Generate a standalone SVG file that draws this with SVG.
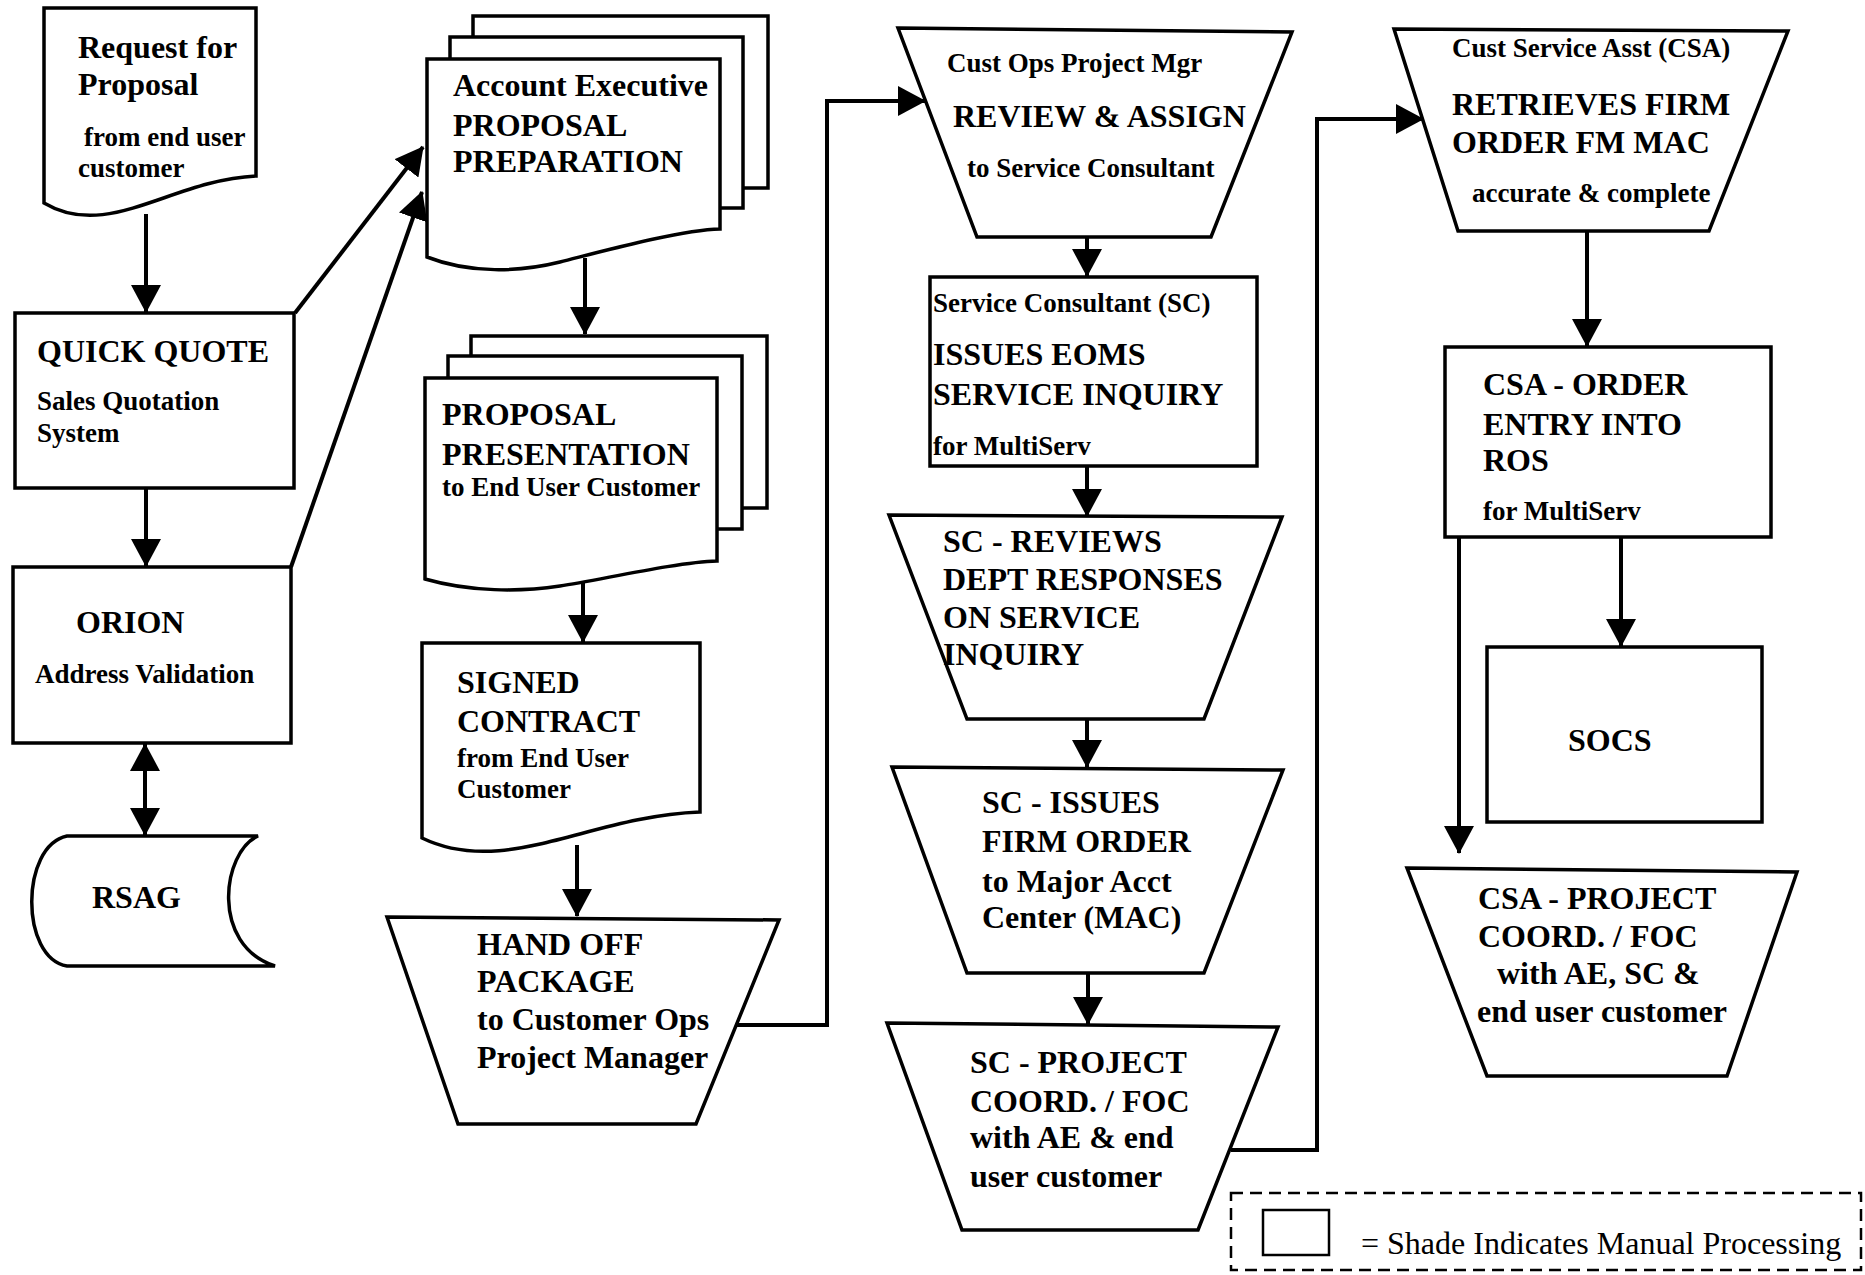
<svg xmlns="http://www.w3.org/2000/svg" width="1865" height="1275" viewBox="0 0 1865 1275">
<defs>
<marker id="ah" viewBox="0 0 28 30" refX="27" refY="15" markerWidth="28" markerHeight="30" markerUnits="userSpaceOnUse" orient="auto-start-reverse">
<path d="M0,0 L28,15 L0,30 Z" fill="#000"/>
</marker>
<style>
.sh{fill:#fff;stroke:#000;stroke-width:3.5;stroke-linejoin:miter}
.cn{fill:none;stroke:#000;stroke-width:4}
text{font-family:"Liberation Serif","Times New Roman",serif;font-weight:bold;fill:#000}
.b{font-size:32px}
.s{font-size:27px}
.lg{font-size:32px;font-weight:normal}
</style>
</defs>
<rect width="1865" height="1275" fill="#fff"/>

<g id="request">
<path class="sh" d="M44,8 H256 V176 C171,180 108,241 44,203 Z"/>
<text class="b" x="78" y="58">Request for</text>
<text class="b" x="78" y="95">Proposal</text>
<text class="s" x="84" y="146">from end user</text>
<text class="s" x="78" y="177">customer</text>
</g>

<g id="quickquote">
<rect class="sh" x="15" y="313" width="279" height="175"/>
<text class="b" x="37" y="362">QUICK QUOTE</text>
<text class="s" x="37" y="410">Sales Quotation</text>
<text class="s" x="37" y="442">System</text>
</g>

<g id="orion">
<rect class="sh" x="13" y="567" width="278" height="176"/>
<text class="b" x="76" y="633">ORION</text>
<text class="s" x="35" y="683">Address Validation</text>
</g>

<g id="rsag">
<path class="sh" d="M67,836 H258 C222,852 210,945 275,966 H67 C20,958 20,846 67,836 Z"/>
<text class="b" x="92" y="908">RSAG</text>
</g>

<g id="proposal-prep">
<rect class="sh" x="473" y="16" width="295" height="172"/>
<rect class="sh" x="450" y="37" width="293" height="171"/>
<path class="sh" d="M427,59 H720 V229 C680,230 600,252 560,262 C520,272 470,274 427,257 Z"/>
<text class="b" x="453" y="96">Account Executive</text>
<text class="b" x="453" y="136">PROPOSAL</text>
<text class="b" x="453" y="172">PREPARATION</text>
</g>

<g id="proposal-presentation">
<rect class="sh" x="471" y="336" width="296" height="172"/>
<rect class="sh" x="448" y="356" width="294" height="173"/>
<path class="sh" d="M425,378 H717 V561 C677,562 600,580 560,586 C520,592 470,592 425,579 Z"/>
<text class="b" x="442" y="425">PROPOSAL</text>
<text class="b" x="442" y="465">PRESENTATION</text>
<text class="s" x="442" y="496">to End User Customer</text>
</g>

<g id="signed-contract">
<path class="sh" d="M422,643 H700 V812 C589,816 505,878 422,838 Z"/>
<text class="b" x="457" y="693">SIGNED</text>
<text class="b" x="457" y="732">CONTRACT</text>
<text class="s" x="457" y="767">from End User</text>
<text class="s" x="457" y="798">Customer</text>
</g>

<g id="hand-off">
<path class="sh" d="M387,917 L779,920 L696,1124 L458,1124 Z"/>
<text class="b" x="477" y="955">HAND OFF</text>
<text class="b" x="477" y="992">PACKAGE</text>
<text class="b" x="477" y="1030">to Customer Ops</text>
<text class="b" x="477" y="1068">Project Manager</text>
</g>

<g id="review-assign">
<path class="sh" d="M898,28 L1292,32 L1211,237 L977,237 Z"/>
<text class="s" x="947" y="72">Cust Ops Project Mgr</text>
<text class="b" x="953" y="127">REVIEW &amp; ASSIGN</text>
<text class="s" x="967" y="177">to Service Consultant</text>
</g>

<g id="service-inquiry">
<rect class="sh" x="930" y="277" width="327" height="189"/>
<text class="s" x="933" y="312">Service Consultant (SC)</text>
<text class="b" x="933" y="365">ISSUES EOMS</text>
<text class="b" x="933" y="405">SERVICE INQUIRY</text>
<text class="s" x="933" y="455">for MultiServ</text>
</g>

<g id="reviews-dept">
<path class="sh" d="M889,515 L1282,517 L1204,719 L967,719 Z"/>
<text class="b" x="943" y="552">SC - REVIEWS</text>
<text class="b" x="943" y="590">DEPT RESPONSES</text>
<text class="b" x="943" y="628">ON SERVICE</text>
<text class="b" x="943" y="665">INQUIRY</text>
</g>

<g id="firm-order">
<path class="sh" d="M892,767 L1283,770 L1204,973 L967,973 Z"/>
<text class="b" x="982" y="813">SC - ISSUES</text>
<text class="b" x="982" y="852">FIRM ORDER</text>
<text class="b" x="982" y="892">to Major Acct</text>
<text class="b" x="982" y="928">Center (MAC)</text>
</g>

<g id="sc-project">
<path class="sh" d="M887,1023 L1278,1027 L1198,1230 L962,1230 Z"/>
<text class="b" x="970" y="1073">SC - PROJECT</text>
<text class="b" x="970" y="1112">COORD. / FOC</text>
<text class="b" x="970" y="1148">with AE &amp; end</text>
<text class="b" x="970" y="1187">user customer</text>
</g>

<g id="retrieves">
<path class="sh" d="M1394,29 L1788,31 L1709,231 L1458,231 Z"/>
<text class="s" x="1452" y="57">Cust Service Asst (CSA)</text>
<text class="b" x="1452" y="115">RETRIEVES FIRM</text>
<text class="b" x="1452" y="153">ORDER FM MAC</text>
<text class="s" x="1472" y="202">accurate &amp; complete</text>
</g>

<g id="order-entry">
<rect class="sh" x="1445" y="347" width="326" height="190"/>
<text class="b" x="1483" y="395">CSA - ORDER</text>
<text class="b" x="1483" y="435">ENTRY INTO</text>
<text class="b" x="1483" y="471">ROS</text>
<text class="s" x="1483" y="520">for MultiServ</text>
</g>

<g id="socs">
<rect class="sh" x="1487" y="647" width="275" height="175"/>
<text class="b" x="1568" y="751">SOCS</text>
</g>

<g id="csa-project">
<path class="sh" d="M1407,868 L1797,872 L1727,1076 L1487,1076 Z"/>
<text class="b" x="1478" y="909">CSA - PROJECT</text>
<text class="b" x="1478" y="947">COORD. / FOC</text>
<text class="b" x="1497" y="984">with AE, SC &amp;</text>
<text class="b" x="1477" y="1022">end user customer</text>
</g>

<g id="legend">
<rect x="1231" y="1193" width="630" height="77" fill="none" stroke="#000" stroke-width="2.5" stroke-dasharray="12,7"/>
<rect x="1263" y="1210" width="66" height="45" fill="#fff" stroke="#000" stroke-width="2.5"/>
<text class="lg" x="1361" y="1254">= Shade Indicates Manual Processing</text>
</g>

<g id="connectors">
<line class="cn" x1="146" y1="214" x2="146" y2="312" marker-end="url(#ah)"/>
<line class="cn" x1="146" y1="488" x2="146" y2="566" marker-end="url(#ah)"/>
<line class="cn" x1="295" y1="313" x2="423" y2="147" marker-end="url(#ah)"/>
<line class="cn" x1="291" y1="567" x2="422" y2="192" marker-end="url(#ah)"/>
<line class="cn" x1="145" y1="744" x2="145" y2="835" marker-start="url(#ah)" marker-end="url(#ah)"/>
<line class="cn" x1="585" y1="258" x2="585" y2="334" marker-end="url(#ah)"/>
<line class="cn" x1="583" y1="582" x2="583" y2="642" marker-end="url(#ah)"/>
<line class="cn" x1="577" y1="845" x2="577" y2="916" marker-end="url(#ah)"/>
<polyline class="cn" points="737,1025 827,1025 827,101 925,101" marker-end="url(#ah)"/>
<line class="cn" x1="1087" y1="237" x2="1087" y2="276" marker-end="url(#ah)"/>
<line class="cn" x1="1087" y1="466" x2="1087" y2="516" marker-end="url(#ah)"/>
<line class="cn" x1="1087" y1="719" x2="1087" y2="767" marker-end="url(#ah)"/>
<line class="cn" x1="1088" y1="973" x2="1088" y2="1024" marker-end="url(#ah)"/>
<polyline class="cn" points="1231,1150 1317,1150 1317,119 1423,119" marker-end="url(#ah)"/>
<line class="cn" x1="1587" y1="231" x2="1587" y2="346" marker-end="url(#ah)"/>
<line class="cn" x1="1621" y1="537" x2="1621" y2="646" marker-end="url(#ah)"/>
<line class="cn" x1="1459" y1="537" x2="1459" y2="853" marker-end="url(#ah)"/>
</g>
</svg>
